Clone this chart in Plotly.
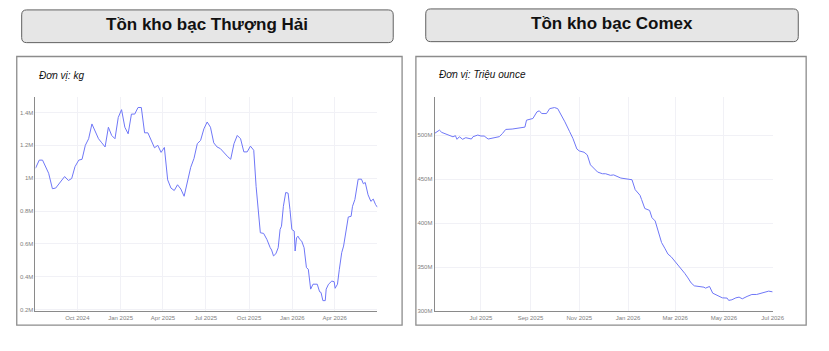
import plotly.graph_objects as go

W, H = 829, 351

# ---------------- data ----------------
sh_dates = [
    "2024-07-04", "2024-07-12", "2024-07-19", "2024-08-01", "2024-08-09", "2024-08-16",
    "2024-09-04", "2024-09-12", "2024-09-19", "2024-09-26", "2024-10-04", "2024-10-11",
    "2024-10-18", "2024-10-25", "2024-11-01", "2024-11-06", "2024-11-15", "2024-11-22",
    "2024-11-29", "2024-12-06", "2024-12-13", "2024-12-20", "2024-12-27", "2025-01-03",
    "2025-01-10", "2025-01-17", "2025-01-24", "2025-01-31", "2025-02-07", "2025-02-14",
    "2025-02-21", "2025-02-28", "2025-03-14", "2025-03-21", "2025-03-28", "2025-04-04",
    "2025-04-11", "2025-04-18", "2025-04-25", "2025-05-02", "2025-05-09", "2025-05-16",
    "2025-05-23", "2025-05-30", "2025-06-06", "2025-06-13", "2025-06-20", "2025-06-27",
    "2025-07-04", "2025-07-11", "2025-07-18", "2025-07-25", "2025-08-01", "2025-08-08",
    "2025-08-17", "2025-08-23", "2025-08-30", "2025-09-06", "2025-09-13", "2025-09-20",
    "2025-09-27", "2025-10-04", "2025-10-11", "2025-10-16", "2025-10-25", "2025-11-01",
    "2025-11-08", "2025-11-15", "2025-11-18", "2025-11-22", "2025-11-27", "2025-12-02",
    "2025-12-06", "2025-12-09", "2025-12-13", "2025-12-18", "2025-12-23", "2025-12-27",
    "2025-12-31", "2026-01-05", "2026-01-07", "2026-01-10", "2026-01-13", "2026-01-17",
    "2026-01-21", "2026-01-26", "2026-01-31", "2026-02-04", "2026-02-09", "2026-02-14",
    "2026-02-23", "2026-02-28", "2026-03-03", "2026-03-07", "2026-03-12", "2026-03-14",
    "2026-03-19", "2026-03-26", "2026-03-31", "2026-04-02", "2026-04-07", "2026-04-11",
    "2026-04-16", "2026-04-20", "2026-04-25", "2026-04-30", "2026-05-06", "2026-05-09",
    "2026-05-14", "2026-05-18", "2026-05-21", "2026-05-28", "2026-06-01", "2026-06-05",
    "2026-06-11", "2026-06-17", "2026-06-22", "2026-06-27", "2026-07-01",
]
sh_kg = [
    1.06, 1.11, 1.11, 1.03, 0.936, 0.94,
    1.01, 0.986, 0.998, 1.07, 1.11, 1.115,
    1.20, 1.24, 1.33, 1.30, 1.24, 1.215,
    1.19, 1.31, 1.26, 1.24, 1.37, 1.417,
    1.31, 1.27, 1.39, 1.39, 1.43, 1.43,
    1.276, 1.276, 1.185, 1.20, 1.157, 1.187,
    0.99, 0.94, 0.925, 0.96, 0.934, 0.89,
    0.97, 1.066, 1.12, 1.21, 1.23, 1.30,
    1.342, 1.31, 1.215, 1.19, 1.18, 1.155,
    1.13, 1.115, 1.21, 1.26, 1.24, 1.16,
    1.16, 1.195, 1.17, 0.95, 0.668, 0.664,
    0.627, 0.577, 0.563, 0.527, 0.54, 0.577,
    0.688, 0.708, 0.829, 0.913, 0.909, 0.81,
    0.688, 0.678, 0.557, 0.637, 0.647, 0.627,
    0.617, 0.577, 0.456, 0.446, 0.325, 0.355,
    0.355, 0.309, 0.305, 0.255, 0.255, 0.325,
    0.355, 0.374, 0.37, 0.33, 0.355, 0.446,
    0.547, 0.587, 0.688, 0.764, 0.768, 0.829,
    0.87, 0.96, 0.994, 0.994, 0.966, 0.974,
    0.899, 0.859, 0.873, 0.839, 0.823,
]
sh_kg = [v * 1e6 for v in sh_kg]

cx_dates = [
    "2025-05-04", "2025-05-10", "2025-05-13", "2025-05-23", "2025-05-27", "2025-05-30",
    "2025-06-01", "2025-06-04", "2025-06-08", "2025-06-12", "2025-06-19", "2025-06-21",
    "2025-06-27", "2025-07-01", "2025-07-05", "2025-07-10", "2025-07-17", "2025-07-24",
    "2025-07-28", "2025-08-01", "2025-08-09", "2025-08-17", "2025-08-25", "2025-08-27",
    "2025-08-31", "2025-09-04", "2025-09-09", "2025-09-12", "2025-09-15", "2025-09-21",
    "2025-09-25", "2025-10-01", "2025-10-05", "2025-10-09", "2025-10-14", "2025-10-20",
    "2025-10-24", "2025-10-29", "2025-11-01", "2025-11-07", "2025-11-11", "2025-11-15",
    "2025-11-20", "2025-11-24", "2025-11-30", "2025-12-04", "2025-12-10", "2025-12-14",
    "2025-12-23", "2025-12-31", "2026-01-06", "2026-01-10", "2026-01-16", "2026-01-18",
    "2026-01-22", "2026-01-28", "2026-01-31", "2026-02-04", "2026-02-08", "2026-02-12",
    "2026-02-16", "2026-02-20", "2026-02-24", "2026-03-02", "2026-03-07", "2026-03-13",
    "2026-03-17", "2026-03-21", "2026-03-25", "2026-03-31", "2026-04-06", "2026-04-08",
    "2026-04-13", "2026-04-17", "2026-04-23", "2026-04-29", "2026-05-05", "2026-05-07",
    "2026-05-11", "2026-05-16", "2026-05-20", "2026-05-24", "2026-05-30", "2026-06-05",
    "2026-06-11", "2026-06-17", "2026-06-26", "2026-07-01",
]
cx_moz = [
    501.9, 505.6, 503.0, 500.0, 498.0, 499.3,
    495.2, 498.1, 495.2, 497.0, 495.5, 498.1,
    500.0, 498.9, 498.9, 495.5, 497.0, 498.2,
    501.9, 506.4, 506.8, 507.5, 509.0, 516.9,
    517.7, 518.8, 526.3, 527.5, 524.4, 524.4,
    530.0, 531.2, 530.0, 522.5, 515.0, 503.8,
    496.3, 484.2, 482.0, 480.5, 477.5, 466.2,
    461.7, 458.0, 456.1, 456.1, 454.3, 454.8,
    451.2, 450.1, 449.3, 438.0, 431.7, 426.8,
    416.7, 414.5, 406.2, 402.5, 391.2, 378.0,
    371.6, 364.9, 361.9, 355.5, 349.1, 343.1,
    337.9, 332.2, 328.9, 328.2, 327.4, 326.3,
    328.2, 320.6, 317.6, 315.3, 315.0, 312.4,
    313.1, 315.3, 316.1, 314.2, 316.9, 319.1,
    319.1, 320.6, 322.9, 322.1,
]
cx_moz = [v * 1e6 for v in cx_moz]

sh_yticks = [200000, 400000, 600000, 800000, 1000000, 1200000, 1400000]
sh_yticktext = ["0.2M", "0.4M", "0.6M", "0.8M", "1M", "1.2M", "1.4M"]
cx_yticks = [300e6, 350e6, 400e6, 450e6, 500e6]
cx_yticktext = ["300M", "350M", "400M", "450M", "500M"]

titles = ["Tồn kho bạc Thượng Hải", "Tồn kho bạc Comex"]
units = ["Đơn vị: kg", "Đơn vị: Triệu ounce"]

# ---------------- helpers ----------------
def px(x):
    return x / W

def py(y):
    return 1 - y / H

def rounded_rect(x0, y0, x1, y1, r):
    rx, ry = r / W, r / H
    X0, X1 = px(x0), px(x1)
    Y0, Y1 = py(y0), py(y1)  # Y0 top (larger), Y1 bottom
    return (f"M {X0+rx},{Y0} L {X1-rx},{Y0} Q {X1},{Y0} {X1},{Y0-ry} "
            f"L {X1},{Y1+ry} Q {X1},{Y1} {X1-rx},{Y1} L {X0+rx},{Y1} "
            f"Q {X0},{Y1} {X0},{Y1+ry} L {X0},{Y0-ry} Q {X0},{Y0} {X0+rx},{Y0} Z")

LINE = "#6f77f7"
GRID = "#f1f1f6"
TICKC = "#808080"
TFONT = dict(family="Liberation Sans Narrow, Liberation Sans, Arial", size=6, color=TICKC)

fig = go.Figure()
fig.add_trace(go.Scatter(x=sh_dates, y=sh_kg, mode="lines",
                         line=dict(color=LINE, width=1), xaxis="x", yaxis="y",
                         showlegend=False))
fig.add_trace(go.Scatter(x=cx_dates, y=cx_moz, mode="lines",
                         line=dict(color=LINE, width=1), xaxis="x2", yaxis="y2",
                         showlegend=False))

axis_common = dict(showgrid=True, gridcolor=GRID, gridwidth=1, showline=True,
                   linecolor="#8a8a8a", linewidth=1, ticks="", tickfont=TFONT,
                   zeroline=False)

fig.update_layout(
    width=W, height=H, margin=dict(l=0, r=0, t=0, b=0),
    paper_bgcolor="white", plot_bgcolor="white",
    xaxis=dict(domain=[px(36), px(383)], anchor="y", type="date",
               range=["2024-07-04", "2026-07-01"],
               tickvals=["2024-10-01", "2025-01-01", "2025-04-01", "2025-07-01",
                         "2025-10-01", "2026-01-01", "2026-04-01"],
               tickformat="%b %Y", **axis_common),
    yaxis=dict(domain=[py(314), py(98)], anchor="x", range=[190000, 1493000],
               tickvals=sh_yticks, ticktext=sh_yticktext, **axis_common),
    xaxis2=dict(domain=[px(441), px(784)], anchor="y2", type="date",
                range=["2025-05-04", "2026-07-01"],
                tickvals=["2025-07-01", "2025-09-01", "2025-11-01", "2026-01-01",
                          "2026-03-01", "2026-05-01", "2026-07-01"],
                tickformat="%b %Y", **axis_common),
    yaxis2=dict(domain=[py(314), py(98)], anchor="x2", range=[300e6, 543e6],
                tickvals=cx_yticks, ticktext=cx_yticktext, **axis_common),
)

shapes = []
# outer chart boxes
for (x0, x1) in [(17, 408), (422, 818)]:
    shapes.append(dict(type="rect", xref="paper", yref="paper",
                       x0=px(x0), x1=px(x1), y0=py(328), y1=py(57),
                       line=dict(color="#8c8c8c", width=1.3), fillcolor="rgba(0,0,0,0)",
                       layer="below"))
# title boxes
for (x0, y0, x1, y1) in [(22, 10, 399, 43), (432, 9, 810, 42)]:
    shapes.append(dict(type="path", xref="paper", yref="paper",
                       path=rounded_rect(x0, y0, x1, y1, 5),
                       line=dict(color="#606060", width=1), fillcolor="#e6e6e6",
                       layer="below"))
fig.update_layout(shapes=shapes)

ann = []
for (cx, cy), t in zip([(210, 25), (621, 24)], titles):
    ann.append(dict(x=px(cx), y=py(cy), xref="paper", yref="paper", text=f"<b>{t}</b>",
                    showarrow=False, xanchor="center", yanchor="middle",
                    font=dict(family="Liberation Sans, Arial", size=17, color="#111111")))
for (ux, uy), t in zip([(38, 76), (443, 75)], units):
    ann.append(dict(x=px(ux), y=py(uy), xref="paper", yref="paper", text=f"<i>{t}</i>",
                    showarrow=False, xanchor="left", yanchor="middle",
                    font=dict(family="Liberation Sans, Arial", size=10, color="#111111")))
fig.update_layout(annotations=ann)

fig.write_html("out.html")
